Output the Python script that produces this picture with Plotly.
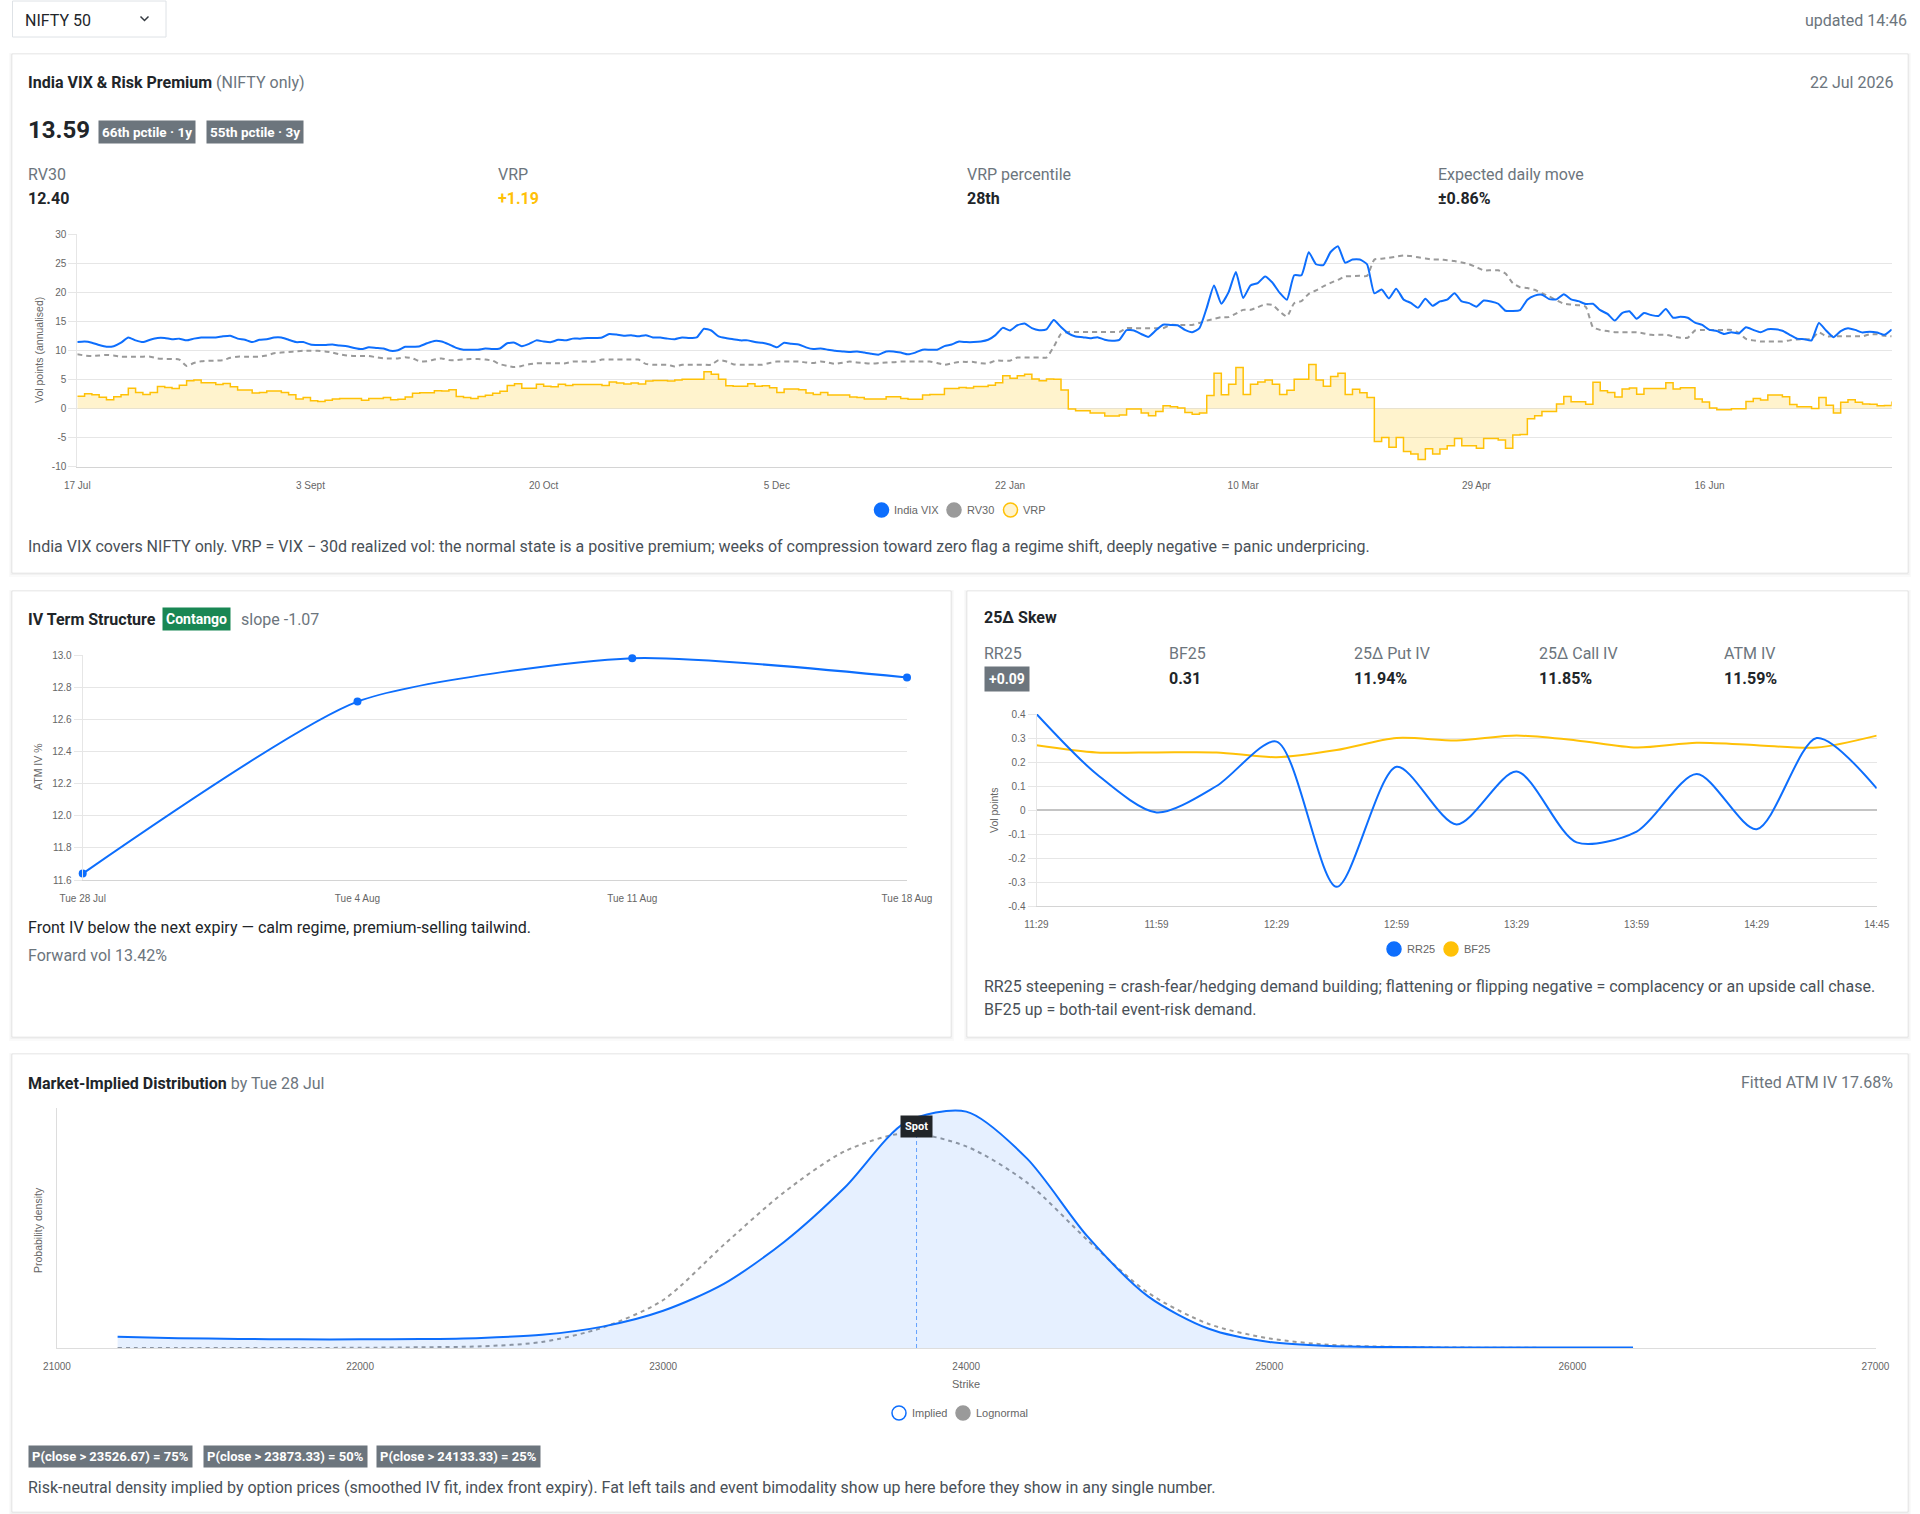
import plotly.graph_objects as go

# ------------------------------------------------------------------ data
vix_tick_labels = ["17 Jul", "3 Sept", "20 Oct", "5 Dec", "22 Jan", "10 Mar", "29 Apr", "16 Jun"]
vix_tick_every = 32
vix_y_ticks = [-10, -5, 0, 5, 10, 15, 20, 25, 30]

india_vix = [
    11.4, 11.5, 11.3, 10.9, 10.6, 10.7, 11.3, 12.2, 11.7, 11.4,
    11.8, 12.1, 12.1, 11.9, 12.0, 11.7, 12.0, 12.2, 12.2, 12.2,
    12.4, 12.5, 12.0, 11.8, 11.4, 11.8, 11.9, 12.2, 12.2, 11.8,
    11.4, 11.4, 11.0, 10.9, 10.9, 11.0, 10.8, 10.7, 10.4, 10.2,
    10.5, 10.4, 10.3, 9.9, 10.0, 10.6, 10.6, 10.7, 11.2, 11.6,
    11.5, 11.0, 10.4, 10.1, 10.1, 10.1, 10.3, 10.2, 10.3, 11.2,
    11.3, 10.7, 11.1, 11.7, 11.5, 11.4, 11.8, 11.7, 12.0, 12.0,
    12.1, 12.1, 12.2, 12.8, 12.7, 12.5, 12.6, 12.4, 12.6, 12.2,
    12.2, 12.0, 11.9, 12.2, 12.1, 12.2, 13.7, 13.4, 12.4, 12.1,
    11.9, 11.7, 11.7, 11.4, 11.3, 11.0, 10.5, 11.3, 11.1, 11.0,
    10.5, 10.2, 10.3, 10.1, 9.9, 9.8, 9.7, 9.8, 9.6, 9.4,
    9.25, 9.8, 9.8, 9.6, 9.3, 9.6, 10.1, 10.1, 10.1, 10.7,
    11.0, 11.5, 11.4, 11.4, 11.5, 11.8, 12.6, 13.85, 13.4, 14.3,
    14.6, 13.8, 13.45, 13.6, 15.2, 14.0, 12.9, 12.35, 12.25, 12.05,
    12.25, 11.8, 11.65, 11.8, 13.45, 13.4, 12.8, 12.3, 13.4, 14.4,
    14.35, 14.3, 13.5, 13.1, 13.8, 17.3, 21.15, 18.0, 20.0, 23.45,
    19.0, 21.15, 21.55, 22.7, 21.65, 19.9, 18.7, 22.9, 22.9, 26.85,
    24.8, 24.65, 26.9, 27.9, 25.05, 25.6, 25.6, 24.8, 19.8, 20.45,
    18.9, 20.6, 18.75, 18.15, 17.3, 18.85, 17.65, 18.4, 18.7, 19.8,
    18.4, 18.1, 17.5, 18.55, 18.4, 18.0, 16.8, 16.75, 16.9, 18.7,
    19.4, 19.55, 18.8, 18.75, 19.65, 18.75, 18.45, 17.95, 18.0, 16.9,
    16.25, 15.1, 16.4, 16.7, 15.4, 16.4, 16.05, 15.9, 17.1, 15.6,
    15.75, 15.6, 14.75, 14.35, 13.5, 13.3, 12.8, 13.1, 12.9, 13.95,
    13.5, 13.1, 13.6, 13.6, 13.35, 12.65, 12.0, 11.9, 11.7, 14.7,
    13.4, 12.25, 13.3, 13.8, 13.5, 13.05, 13.2, 13.05, 12.65, 13.59,
]

rv30 = [
    9.3, 9.1, 9.0, 9.1, 9.2, 9.1, 8.9, 8.9, 8.9, 8.9,
    8.9, 8.6, 8.5, 8.5, 8.4, 7.3, 7.8, 8.1, 8.2, 8.2,
    8.3, 8.7, 8.9, 8.9, 8.9, 8.9, 9.1, 9.5, 9.6, 9.7,
    9.8, 9.9, 9.9, 9.9, 9.8, 9.6, 9.3, 9.1, 9.0, 9.0,
    9.0, 8.8, 8.6, 8.6, 8.6, 8.8, 8.6, 8.1, 8.1, 8.4,
    8.6, 8.3, 8.3, 8.4, 8.5, 8.5, 8.4, 8.2, 7.6, 7.3,
    7.1, 7.3, 7.6, 7.75, 7.75, 7.75, 7.75, 7.75, 8.05, 8.05,
    8.05, 8.05, 8.4, 8.4, 8.4, 8.4, 8.4, 8.4, 7.65, 7.5,
    7.5, 7.5, 7.2, 7.5, 7.5, 7.5, 7.5, 7.5, 8.3, 8.1,
    7.6, 7.5, 7.5, 7.5, 7.5, 7.8, 8.05, 8.05, 8.05, 8.05,
    7.9, 7.8, 8.05, 7.9, 7.65, 7.85, 8.05, 7.9, 7.8, 7.7,
    7.8, 7.9, 7.95, 8.05, 8.05, 8.05, 8.05, 8.05, 7.8, 7.5,
    7.75, 8.0, 8.0, 8.0, 7.75, 7.75, 8.2, 8.2, 8.2, 8.75,
    8.75, 8.75, 8.75, 8.75, 10.6, 12.8, 13.15, 13.15, 13.15, 13.15,
    13.15, 13.15, 13.15, 13.15, 13.8, 13.8, 13.8, 13.8, 13.8, 13.8,
    14.35, 14.35, 14.35, 14.35, 14.7, 15.1, 15.4, 15.7, 15.7, 16.3,
    16.95, 16.95, 17.4, 17.9, 17.8, 16.7, 15.8, 18.1, 18.45, 19.7,
    20.3, 21.0, 21.6, 22.1, 22.7, 22.75, 22.8, 22.8, 25.6, 25.75,
    25.9, 26.1, 26.3, 26.2, 26.0, 25.8, 25.6, 25.6, 25.5, 25.35,
    25.1, 24.8, 24.3, 23.75, 23.75, 23.75, 23.2, 21.55, 20.85, 20.7,
    20.4, 19.8, 19.25, 18.6, 18.0, 17.85, 17.75, 17.5, 13.95, 13.5,
    13.3, 13.1, 13.1, 13.1, 13.1, 12.9, 12.65, 12.65, 12.65, 12.4,
    12.15, 12.15, 13.4, 13.5, 13.5, 13.5, 13.5, 13.5, 13.0, 11.95,
    11.7, 11.5, 11.5, 11.5, 11.5, 11.7, 11.85, 11.9, 11.95, 13.1,
    12.4, 12.4, 12.4, 12.4, 12.4, 12.4, 12.75, 12.75, 12.5, 12.40,
]

vrp = [
    2.1, 2.5, 2.35, 1.9, 1.5, 2.0, 2.35, 3.45, 2.75, 2.4,
    2.75, 3.75, 3.6, 3.4, 4.0, 4.75, 4.9, 4.4, 4.4, 4.1,
    4.3, 3.7, 3.15, 3.15, 2.65, 2.75, 3.0, 3.0, 2.75, 2.35,
    1.6, 1.85, 1.3, 1.2, 1.4, 1.6, 1.7, 1.7, 1.7, 1.4,
    1.7, 1.7, 1.85, 1.5, 1.55, 1.95, 2.6, 2.7, 2.7, 3.05,
    3.0, 3.2, 2.05, 1.85, 1.7, 2.05, 2.25, 2.6, 2.95, 3.95,
    4.25, 3.45, 3.45, 4.15, 3.8, 3.7, 4.15, 3.95, 4.1, 4.1,
    4.1, 4.1, 3.95, 4.55, 4.35, 4.2, 4.35, 4.2, 4.7, 4.8,
    4.8, 4.7, 4.9, 5.0, 5.0, 5.0, 6.3, 5.85, 5.0, 3.9,
    3.8, 3.8, 4.25, 3.8, 3.9, 3.55, 2.75, 3.35, 3.35, 3.2,
    2.65, 2.4, 2.75, 2.3, 2.3, 2.3, 1.95, 1.85, 1.6, 1.6,
    1.6, 2.0, 2.0, 1.7, 1.55, 1.55, 2.3, 2.4, 2.4, 3.4,
    3.4, 3.6, 3.5, 3.75, 3.75, 4.0, 4.4, 5.6, 5.2, 5.6,
    5.85, 5.05, 4.75, 5.05, 5.0, 3.15, -0.1, -0.4, -0.4, -0.8,
    -0.8, -1.3, -1.3, -1.15, -0.1, -0.1, -0.8, -1.25, -0.55, 0.45,
    0.3, 0.05, -0.7, -1.0, -0.8, 2.2, 6.05, 2.35, 4.15, 7.05,
    2.4, 4.15, 4.55, 4.9, 4.15, 2.4, 3.1, 5.0, 5.0, 7.55,
    4.9, 3.8, 5.5, 6.05, 2.4, 3.3, 2.7, 1.85, -5.7, -5.0,
    -6.7, -5.0, -7.4, -7.85, -8.8, -6.95, -7.85, -7.0, -6.45, -5.2,
    -6.45, -6.45, -6.85, -5.2, -5.2, -5.45, -6.85, -4.6, -4.5, -1.8,
    -1.25, -0.55, -0.55, 0.75, 2.05, 1.15, 1.15, 0.7, 4.5, 3.05,
    2.75, 1.95, 3.35, 3.5, 2.45, 3.4, 3.4, 3.4, 4.4, 3.35,
    3.55, 3.55, 1.6, 1.1, 0.05, -0.25, -0.25, -0.05, -0.05, 1.2,
    1.7, 1.45, 2.3, 2.3, 2.0, 0.65, 0.3, 0.3, 0.0, 1.85,
    0.55, -0.8, 1.05, 1.5, 1.05, 0.75, 0.7, 0.45, 0.5, 1.19,
]

term_expiries = ["Tue 28 Jul", "Tue 4 Aug", "Tue 11 Aug", "Tue 18 Aug"]
term_atm_iv = [11.64, 12.71, 12.98, 12.86]

skew_times = ["11:29", "11:44", "11:59", "12:14", "12:29", "12:44", "12:59", "13:14",
              "13:29", "13:44", "13:59", "14:14", "14:29", "14:44", "14:45"]
rr25 = [0.40, 0.15, -0.01, 0.10, 0.285, -0.32, 0.18, -0.06, 0.16, -0.135, -0.09, 0.15, -0.08, 0.30, 0.09]
bf25 = [0.27, 0.24, 0.24, 0.24, 0.22, 0.25, 0.30, 0.29, 0.31, 0.29, 0.26, 0.28, 0.27, 0.26, 0.31]
skew_y_ticks = [-0.4, -0.3, -0.2, -0.1, 0, 0.1, 0.2, 0.3, 0.4]

strikes = [21200, 21400, 21600, 21800, 22000, 22200, 22400, 22600, 22800, 23000, 23200, 23400, 23600,
           23800, 24000, 24200, 24400, 24600, 24800, 25000, 25200, 25400, 25600, 25800, 26000, 26200]
implied_density = [0.047, 0.041, 0.038, 0.036, 0.036, 0.037, 0.042, 0.055, 0.089, 0.155, 0.267, 0.443, 0.67,
                   0.94, 0.985, 0.79, 0.465, 0.215, 0.08, 0.025, 0.008, 0.004, 0.002, 0.002, 0.002, 0.002]
lognormal_density = [0.0, 0.0, 0.0, 0.0, 0.001, 0.003, 0.007, 0.025, 0.085, 0.20, 0.43, 0.65, 0.82,
                     0.895, 0.84, 0.69, 0.45, 0.23, 0.10, 0.04, 0.013, 0.005, 0.002, 0.001, 0.0, 0.0]
spot = 23836
strike_ticks = [21000, 22000, 23000, 24000, 25000, 26000, 27000]
quantile_badges = ["P(close &gt; 23526.67) = 75%", "P(close &gt; 23873.33) = 50%", "P(close &gt; 24133.33) = 25%"]

# ------------------------------------------------------------------ helpers
W, H = 1920, 1514
UI = "Segoe UI, Roboto, Helvetica Neue, Arial, sans-serif"
CH = "Liberation Sans, Arial, Helvetica, sans-serif"
DARK, MUTED, BODY = "#212529", "#6c757d", "#495057"
BLUE, AMBER, GREY = "#0d6efd", "#ffc107", "#9a9a9a"
GRID = "#e6e6e6"
FS = 16


def px(x):
    return x / W


def py(y):
    return 1 - y / H


shapes, anns = [], []


def card(x0, y0, x1, y1):
    shapes.append(dict(type="rect", xref="paper", yref="paper", x0=px(x0 - 3), x1=px(x1 + 3),
                       y0=py(y1 + 4), y1=py(y0 - 1), fillcolor="rgba(0,0,0,0.018)",
                       line=dict(width=0), layer="below"))
    shapes.append(dict(type="rect", xref="paper", yref="paper", x0=px(x0 - 1.5), x1=px(x1 + 1.5),
                       y0=py(y1 + 2), y1=py(y0 - 0.5), fillcolor="rgba(0,0,0,0.03)",
                       line=dict(width=0), layer="below"))
    shapes.append(dict(type="rect", xref="paper", yref="paper", x0=px(x0), x1=px(x1),
                       y0=py(y1), y1=py(y0), fillcolor="white",
                       line=dict(color="rgba(0,0,0,0.07)", width=1), layer="below"))


def txt(x, y, s, size=FS, color=DARK, xanchor="left", family=UI, angle=0):
    # small correction for the annotation's inner padding
    if angle == 0 and xanchor == "left":
        x -= 2
    elif angle == 0 and xanchor == "right":
        x += 3
    anns.append(dict(xref="paper", yref="paper", x=px(x), y=py(y), text=s, showarrow=False,
                     xanchor=xanchor, yanchor="middle", textangle=angle,
                     font=dict(family=family, size=size, color=color)))


def badge(x, y, s, bg=MUTED, size=13, pad=3):
    anns.append(dict(xref="paper", yref="paper", x=px(x), y=py(y), text="<b>" + s + "</b>",
                     showarrow=False, xanchor="left", yanchor="middle", bgcolor=bg, borderpad=pad,
                     font=dict(family=UI, size=size, color="white")))


def dot(cx, cy, r, fill, edge=None):
    shapes.append(dict(type="circle", xref="paper", yref="paper", x0=px(cx - r), x1=px(cx + r),
                       y0=py(cy + r), y1=py(cy - r), fillcolor=fill,
                       line=dict(color=edge or fill, width=1.5)))


tickfont = dict(family=CH, size=10, color="#666666")

# ------------------------------------------------------------------ cards & header
card(12, 54, 1908, 573)
card(12, 591, 951, 1037)
card(967, 591, 1908, 1037)
card(12, 1054, 1908, 1512)

shapes.append(dict(type="rect", xref="paper", yref="paper", x0=px(12.5), x1=px(166), y0=py(37), y1=py(1),
                   fillcolor="white", line=dict(color="#dee2e6", width=1)))
shapes.append(dict(type="path", xref="paper", yref="paper",
                   path=f"M {px(140.5)},{py(16.5)} L {px(144.5)},{py(20.5)} L {px(148.5)},{py(16.5)}",
                   line=dict(color="#343a40", width=1.5)))
txt(25, 20, "NIFTY 50")
txt(1906, 20, "updated 14:46", color=MUTED, xanchor="right")

# ------------------------------------------------------------------ card 1 : VIX
txt(28, 82.5, '<b>India VIX &amp; Risk Premium</b> <span style="color:#6c757d">(NIFTY only)</span>')
txt(1892, 82.5, "22 Jul 2026", color=MUTED, xanchor="right")
txt(28, 130, "<b>13.59</b>", size=24)
badge(98, 132.5, "66th pctile · 1y", size=13.5)
badge(205.5, 132.5, "55th pctile · 3y", size=13.5)
stat_x = [28, 498, 967, 1438]
for x, lab, val, col in zip(stat_x, ["RV30", "VRP", "VRP percentile", "Expected daily move"],
                            ["12.40", "+1.19", "28th", "±0.86%"], [DARK, AMBER, DARK, DARK]):
    txt(x, 175, lab, color=MUTED)
    txt(x, 199, "<b>" + val + "</b>", color=col)
txt(39, 350, "Vol points (annualised)", size=10.5, color="#666666", family=CH, angle=-90, xanchor="center")
for cx, tx, lab, fill, edge in [(881.5, 892, "India VIX", BLUE, None), (954, 965, "RV30", "#9a9a9a", None),
                                (1010.5, 1021, "VRP", "#fff3cd", AMBER)]:
    dot(cx, 510, 7, fill, edge)
    txt(tx + 2, 510, lab, size=11, color="#666666", family=CH)
txt(28, 546, "India VIX covers NIFTY only. VRP = VIX − 30d realized vol: the normal state is a positive premium; "
             "weeks of compression toward zero flag a regime shift, deeply negative = panic underpricing.",
    color=BODY)

# ------------------------------------------------------------------ card 2 : term structure
txt(28, 619, "<b>IV Term Structure</b>")
badge(162, 619, "Contango", bg="#198754", size=14)
txt(241, 619, "slope -1.07", color=MUTED)
txt(38, 767, "ATM IV %", size=10.5, color="#666666", family=CH, angle=-90, xanchor="center")
txt(28, 927, "Front IV below the next expiry — calm regime, premium-selling tailwind.")
txt(28, 955, "Forward vol 13.42%", color=MUTED)

# ------------------------------------------------------------------ card 3 : skew
txt(984, 617, "<b>25Δ Skew</b>")
sk_x = [984, 1169, 1354, 1539, 1724]
for x, lab in zip(sk_x, ["RR25", "BF25", "25Δ Put IV", "25Δ Call IV", "ATM IV"]):
    txt(x, 653, lab, color=MUTED)
badge(984, 678.5, "+0.09", size=14, pad=4)
for x, val in zip(sk_x[1:], ["0.31", "11.94%", "11.85%", "11.59%"]):
    txt(x, 678, "<b>" + val + "</b>")
txt(994, 810, "Vol points", size=10.5, color="#666666", family=CH, angle=-90, xanchor="center")
for cx, tx, lab, fill in [(1394, 1405, "RR25", BLUE), (1451, 1461.5, "BF25", AMBER)]:
    dot(cx, 949, 7, fill)
    txt(tx + 2, 949, lab, size=11, color="#666666", family=CH)
txt(984, 986, "RR25 steepening = crash-fear/hedging demand building; flattening or flipping negative = "
              "complacency or an upside call chase.", color=BODY)
txt(984, 1009, "BF25 up = both-tail event-risk demand.", color=BODY)

# ------------------------------------------------------------------ card 4 : distribution
txt(28, 1083, '<b>Market-Implied Distribution</b> <span style="color:#6c757d">by Tue 28 Jul</span>')
txt(1892, 1082, "Fitted ATM IV 17.68%", color=MUTED, xanchor="right")
txt(38, 1230, "Probability density", size=10.5, color="#666666", family=CH, angle=-90, xanchor="center")
txt(966, 1384, "Strike", size=11, color="#666666", family=CH, xanchor="center")
dot(899, 1413, 7, "white", BLUE)
txt(912, 1413, "Implied", size=11, color="#666666", family=CH)
dot(963, 1413, 7, "#9a9a9a")
txt(976, 1413, "Lognormal", size=11, color="#666666", family=CH)
for x, s in zip([28, 203, 376], quantile_badges):
    badge(x, 1456, s, size=13)
txt(28, 1487, "Risk-neutral density implied by option prices (smoothed IV fit, index front expiry). "
              "Fat left tails and event bimodality show up here before they show in any single number.",
    color=BODY)

# spot marker
shapes.append(dict(type="line", xref="x4", yref="paper", x0=spot, x1=spot, y0=py(1348), y1=py(1137),
                   line=dict(color="rgba(13,110,253,0.6)", width=1, dash="4px,3px")))
anns.append(dict(xref="x4", yref="paper", x=spot, y=py(1126.5), text="<b>Spot</b>", showarrow=False,
                 xanchor="center", yanchor="middle", bgcolor="#212529", borderpad=4,
                 font=dict(family=UI, size=11, color="white")))

# ------------------------------------------------------------------ traces
fig = go.Figure()
idx = list(range(len(india_vix)))
fig.add_trace(go.Scatter(x=idx, y=vrp, mode="lines", name="VRP",
                         line=dict(color=AMBER, width=1.5, shape="hv"),
                         fill="tozeroy", fillcolor="rgba(255,193,7,0.2)", xaxis="x", yaxis="y"))
fig.add_trace(go.Scatter(x=idx, y=rv30, mode="lines", name="RV30",
                         line=dict(color=GREY, width=2, dash="5px,4px", shape="spline", smoothing=0.5),
                         xaxis="x", yaxis="y"))
fig.add_trace(go.Scatter(x=idx, y=india_vix, mode="lines", name="India VIX",
                         line=dict(color=BLUE, width=2, shape="spline", smoothing=0.5),
                         xaxis="x", yaxis="y"))

fig.add_trace(go.Scatter(x=term_expiries, y=term_atm_iv, mode="lines+markers", name="ATM IV",
                         line=dict(color=BLUE, width=2, shape="spline", smoothing=0.6),
                         marker=dict(size=8, color=BLUE), cliponaxis=False, xaxis="x2", yaxis="y2"))

fig.add_trace(go.Scatter(x=skew_times, y=bf25, mode="lines", name="BF25",
                         line=dict(color=AMBER, width=2, shape="spline", smoothing=0.8),
                         xaxis="x3", yaxis="y3"))
fig.add_trace(go.Scatter(x=skew_times, y=rr25, mode="lines", name="RR25",
                         line=dict(color=BLUE, width=2, shape="spline", smoothing=0.8),
                         xaxis="x3", yaxis="y3"))

fig.add_trace(go.Scatter(x=strikes, y=lognormal_density, mode="lines", name="Lognormal",
                         line=dict(color=GREY, width=2, dash="4px,4px", shape="spline", smoothing=0.8),
                         xaxis="x4", yaxis="y4"))
fig.add_trace(go.Scatter(x=strikes, y=implied_density, mode="lines", name="Implied",
                         line=dict(color=BLUE, width=2, shape="spline", smoothing=0.8),
                         fill="tozeroy", fillcolor="rgba(13,110,253,0.1)", xaxis="x4", yaxis="y4"))

# ------------------------------------------------------------------ axes
xbase = dict(showgrid=False, zeroline=False, showline=True, linecolor="#d4d4d4", ticks="outside", ticklen=9,
             tickcolor="rgba(0,0,0,0)", tickfont=tickfont, fixedrange=True, automargin=False)
ybase = dict(showgrid=True, gridcolor=GRID, zeroline=False, showline=True, linecolor=GRID, ticks="outside",
             ticklen=8, tickcolor=GRID, tickfont=tickfont, fixedrange=True, automargin=False)

fig.update_layout(
    xaxis=dict(xbase, domain=[px(77.3), px(1891.7)], range=[0, len(india_vix) - 1], anchor="y",
               tickvals=list(range(0, len(india_vix), vix_tick_every))[:len(vix_tick_labels)],
               ticktext=vix_tick_labels),
    yaxis=dict(ybase, domain=[py(466.5), py(234)], range=[-10, 30], anchor="x",
               tickvals=vix_y_ticks, ticktext=[str(v) for v in vix_y_ticks]),
    xaxis2=dict(xbase, domain=[px(82.7), px(907)], type="category", range=[0, len(term_expiries) - 1],
                anchor="y2"),
    yaxis2=dict(ybase, domain=[py(880), py(655)], range=[11.6, 13.0], tick0=11.6, dtick=0.2,
                tickformat=".1f", anchor="x2"),
    xaxis3=dict(xbase, domain=[px(1036.5), px(1876.7)], type="category", range=[0, len(skew_times) - 1],
                tickvals=skew_times[::2], anchor="y3"),
    yaxis3=dict(ybase, domain=[py(906), py(714)], range=[-0.4, 0.4], anchor="x3",
                tickvals=skew_y_ticks, ticktext=[f"{v:g}" for v in skew_y_ticks],
                zeroline=True, zerolinecolor="#c4c4c4", zerolinewidth=2),
    xaxis4=dict(xbase, domain=[px(57), px(1875.5)], range=[strike_ticks[0], strike_ticks[-1]],
                tickvals=strike_ticks, tickformat="d", anchor="y4", linecolor="#dddddd"),
    yaxis4=dict(domain=[py(1348), py(1108)], range=[0, 1.0], showgrid=False, zeroline=False,
                showline=True, linecolor="#dddddd", showticklabels=False, ticks="", anchor="x4",
                fixedrange=True, automargin=False),
    width=W, height=H, autosize=False,
    margin=dict(l=0, r=0, t=0, b=0, pad=0, autoexpand=False),
    paper_bgcolor="white", plot_bgcolor="rgba(0,0,0,0)",
    showlegend=False, hovermode=False,
    shapes=shapes, annotations=anns,
    font=dict(family=UI, color=DARK),
)

fig.write_html("out.html", include_plotlyjs=True, config={"displayModeBar": False, "staticPlot": True},
               post_script="document.body.style.margin='0';")
